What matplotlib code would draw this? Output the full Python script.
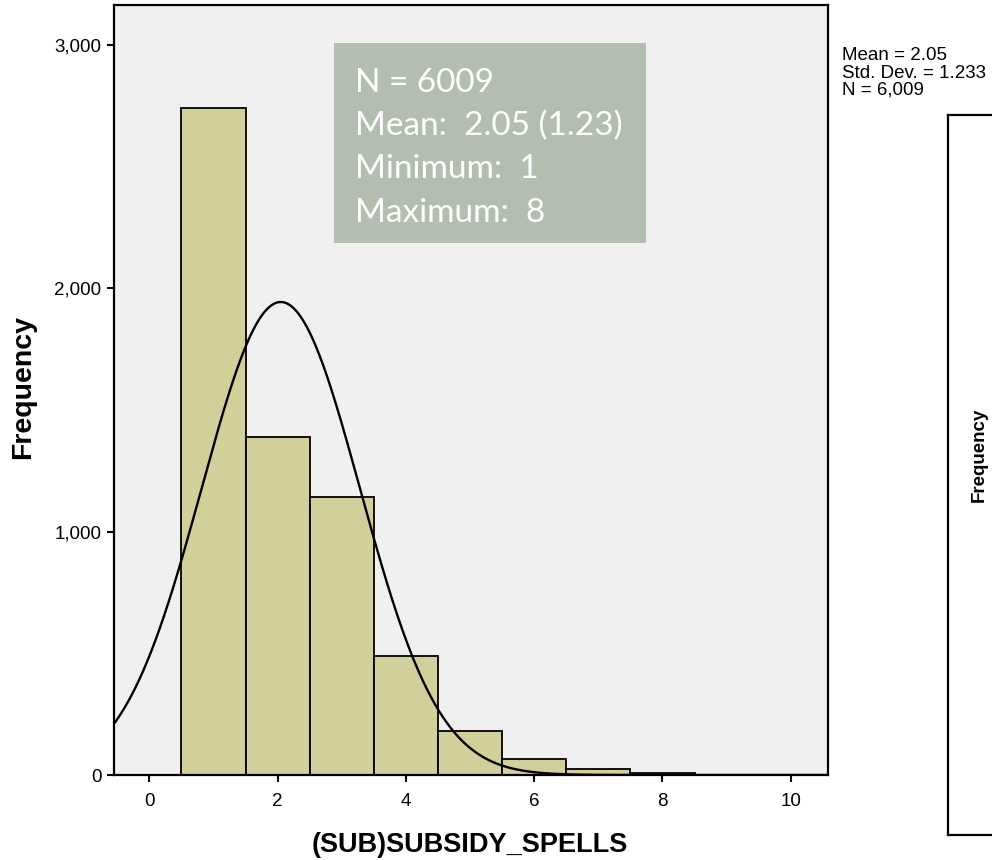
import numpy as np
import matplotlib
matplotlib.use("Agg")
import matplotlib.pyplot as plt
import matplotlib.ticker as ticker
from matplotlib.patches import Rectangle

# data
spells = [1, 2, 3, 4, 5, 6, 7, 8]
counts = [2740, 1388, 1142, 488, 181, 66, 25, 10]
mean_val = 2.05
sd_val = 1.233
n_total = 6009
box_lines = ["N = 6009", "Mean:  2.05 (1.23)", "Minimum:  1", "Maximum:  8"]
side_lines = ["Mean = 2.05", "Std. Dev. = 1.233", "N = 6,009"]

plt.rcParams['font.family'] = ['Liberation Sans', 'DejaVu Sans']

fig = plt.figure(figsize=(9.92, 8.6), dpi=100)
W, H = 992.0, 860.0
ax = fig.add_axes([114 / W, 1 - 775 / H, 714 / W, 770 / H])
ax.set_facecolor('#f0f0f0')

ax.bar(spells, counts, width=1.0, color='#d3cf9a', edgecolor='black', linewidth=1.3, zorder=2)

# normal curve from the reported mean / sd
xs = np.linspace(-1, 11, 600)
curve = n_total * 1.0 / (sd_val * np.sqrt(2 * np.pi)) * np.exp(-0.5 * ((xs - mean_val) / sd_val) ** 2)
ax.plot(xs, curve, color='black', linewidth=1.7, zorder=3)

ax.set_xlim(-0.55, 10.58)
ax.set_ylim(0, 3165)
ax.set_xticks([0, 2, 4, 6, 8, 10])
ax.set_yticks([0, 1000, 2000, 3000])
ax.yaxis.set_major_formatter(ticker.FuncFormatter(lambda v, p: '{:,.0f}'.format(v)))
ax.tick_params(axis='both', direction='out', length=5, width=1.5, labelsize=13.5, pad=4)
ax.tick_params(axis='x', pad=8)
for s in ax.spines.values():
    s.set_linewidth(1.6)
    s.set_color('black')

# summary box
ax.add_patch(Rectangle((0.308, 0.691), 0.437, 0.260, transform=ax.transAxes,
                       facecolor='#b3beb1', edgecolor='none', zorder=5))
for txt, yb in zip(box_lines, [92, 135, 178, 222]):
    fig.text(355 / W, 1 - yb / H, txt, color='white', fontsize=24, family=['Lato', 'DejaVu Sans'],
             ha='left', va='baseline', zorder=6)

fig.text(23 / W, 1 - 387 / H, 'Frequency', rotation=90, fontsize=20.5, fontweight='bold',
         ha='center', va='center')
fig.text(470 / W, 1 - 845 / H, '(SUB)SUBSIDY_SPELLS', fontsize=19.5, fontweight='bold',
         ha='center', va='center')

# stats legend on the right
for txt, yc in zip(side_lines, [56, 73, 90]):
    fig.text(842 / W, 1 - yc / H, txt, fontsize=13.5, ha='left', va='center')

# edge of the neighbouring chart
ax2 = fig.add_axes([948 / W, 1 - 835 / H, 200 / W, 720 / H])
ax2.set_xticks([])
ax2.set_yticks([])
ax2.set_facecolor('white')
for s in ax2.spines.values():
    s.set_linewidth(1.6)
fig.text(979 / W, 1 - 455 / H, 'Frequency', rotation=90, fontsize=13.5, fontweight='bold',
         ha='center', va='center')

fig.savefig('out.png', dpi=100)
